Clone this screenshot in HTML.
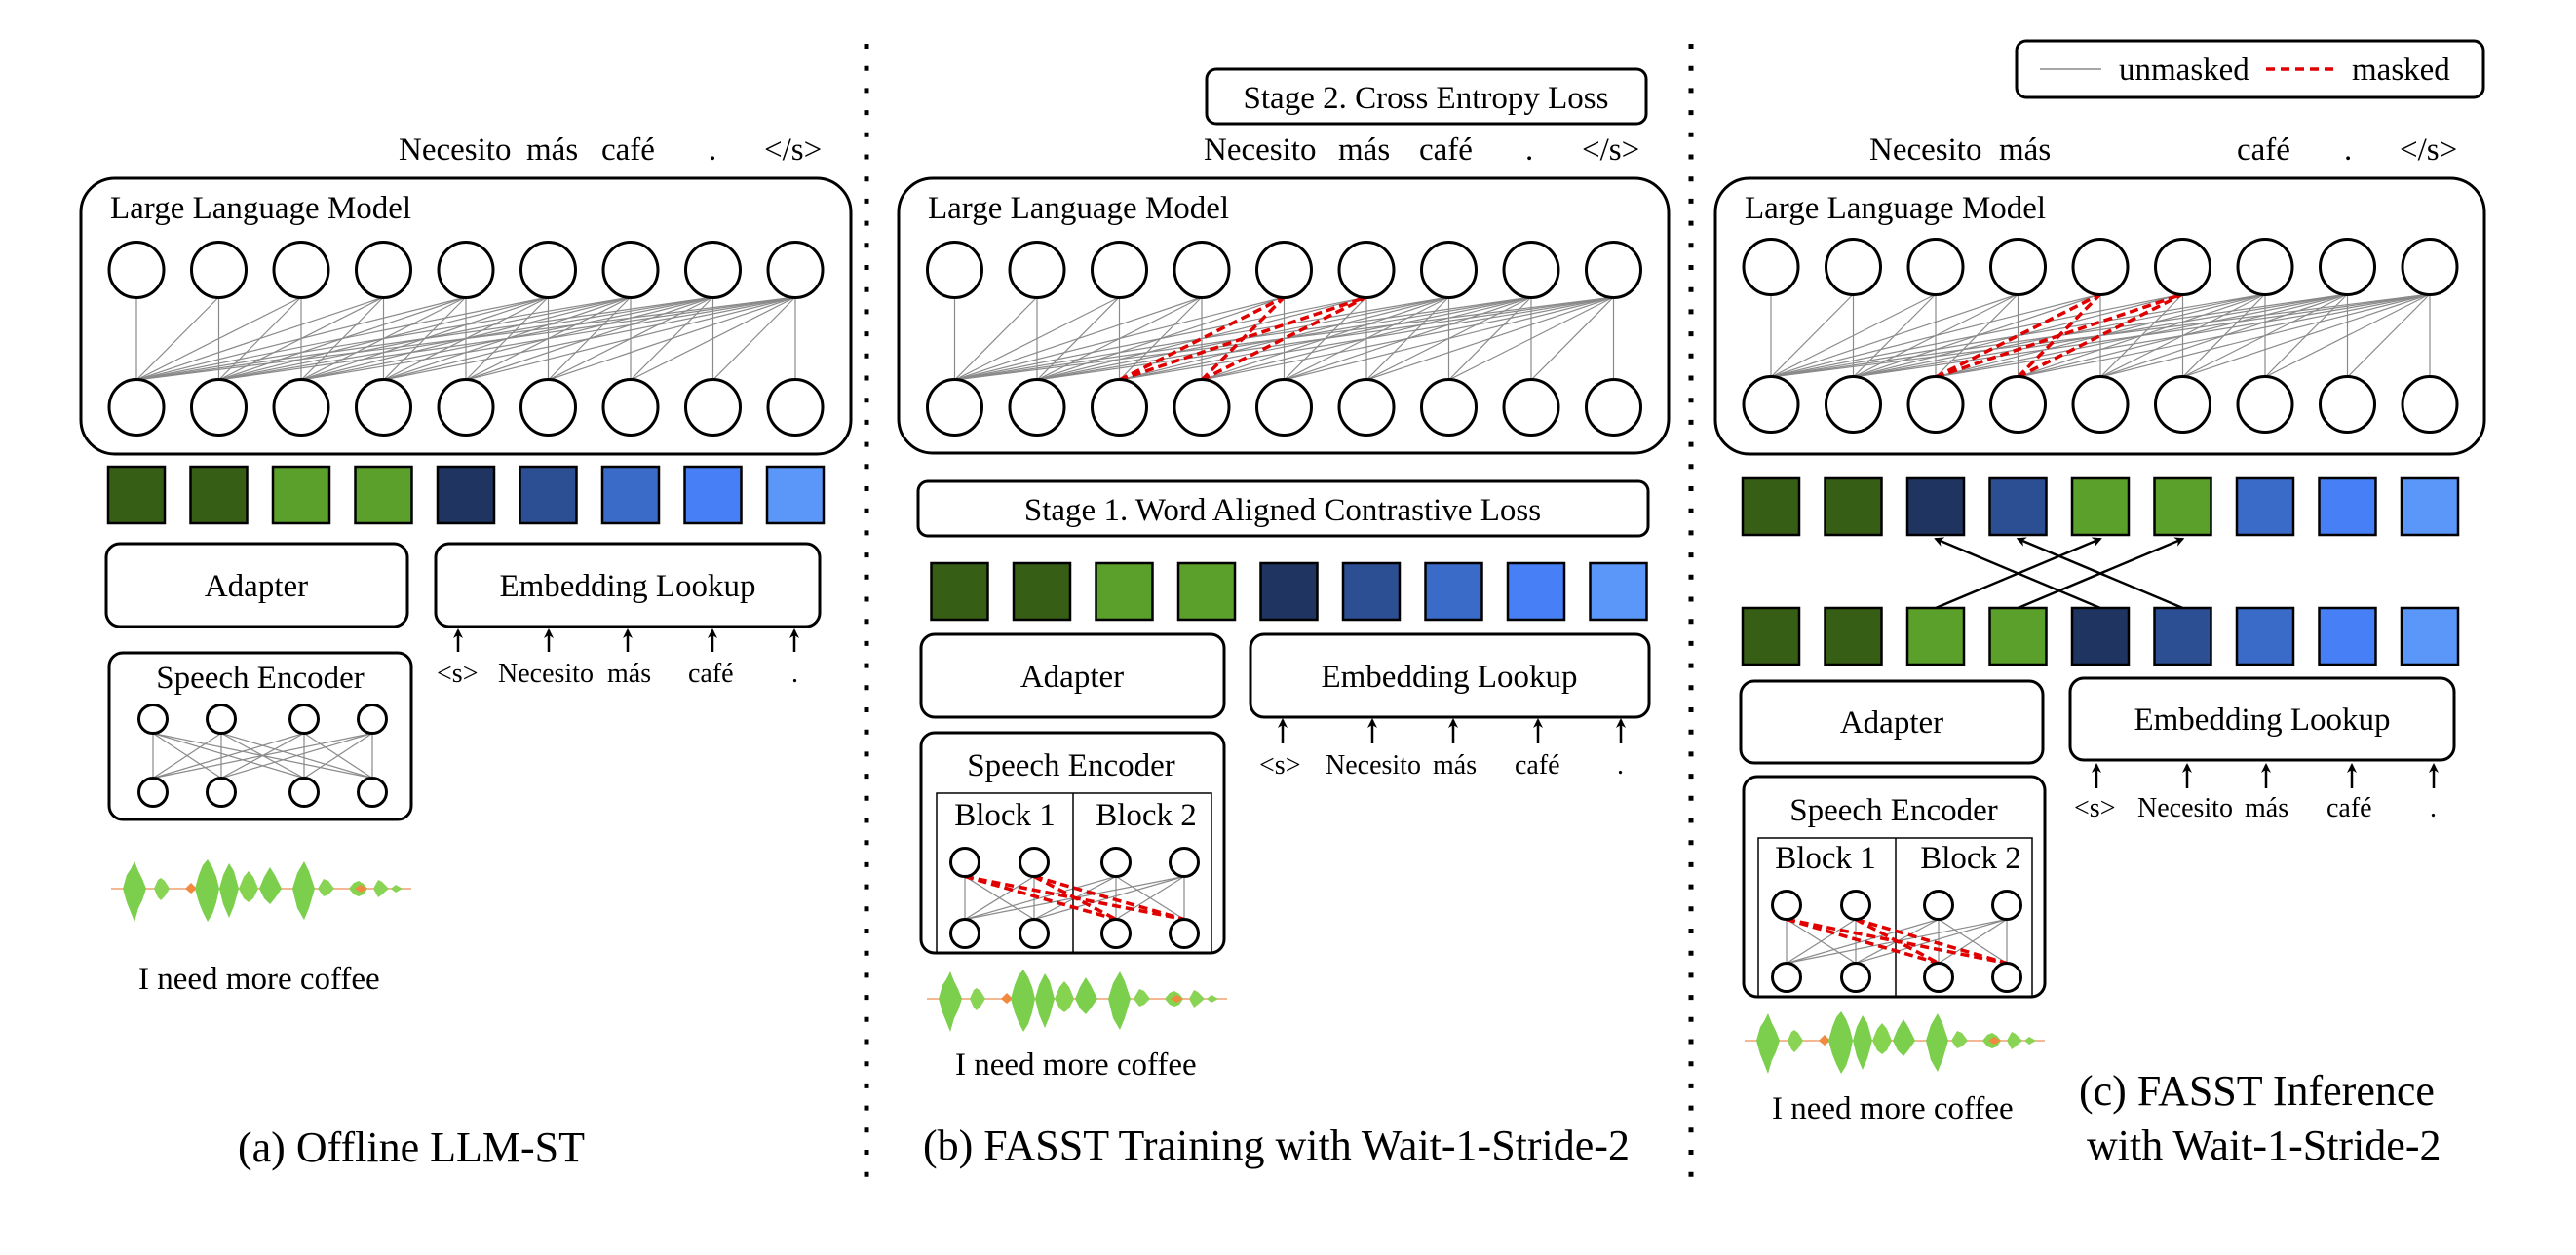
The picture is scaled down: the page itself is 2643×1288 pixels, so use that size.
<!DOCTYPE html>
<html><head><meta charset="utf-8">
<style>
html,body{margin:0;padding:0;background:#fff;}
svg{display:block;font-family:"Liberation Serif","Times New Roman",Times,serif;}
svg text{font-family:"Liberation Serif","Times New Roman",Times,serif;fill:#000;}
.t{font-size:33px;}
.s{font-size:28px;}
.c{font-size:44px;}
.box{fill:none;stroke:#000;stroke-width:3;}
.nd{fill:#fff;stroke:#000;stroke-width:3;}
.g{stroke:#8a8a8a;stroke-width:1.2;fill:none;}
.r{stroke:#e00000;stroke-width:3.5;stroke-dasharray:9 5;fill:none;}
.sq{stroke:#000;stroke-width:2.5;}
.ar{stroke:#000;stroke-width:2.5;fill:none;}
</style></head>
<body>
<svg id="s" width="2643" height="1288" viewBox="0 0 2643 1288" xmlns="http://www.w3.org/2000/svg" font-family="Liberation Serif, serif">
<defs>
<marker id="ah" markerWidth="10" markerHeight="10" refX="8" refY="5" orient="auto" markerUnits="userSpaceOnUse">
<path d="M0,0 L10,5 L0,10 L3,5 z" fill="#000"/></marker>
<g id="wave">
<line x1="0" y1="0" x2="308" y2="0" stroke="#f2a070" stroke-width="1.5"/>
<path d="M12,0 L16,-14 L20,-20 L24,-28 L28,-18 L32,-10 L36,0 L32,12 L28,20 L24,34 L20,24 L16,14 Z" fill="#7ccf4c"/>
<path d="M44,0 L48,-9 L51,-11 L55,-8 L60,0 L55,8 L51,12 L48,9 Z" fill="#8ad455"/>
<path d="M76,0 L82,-6 L88,0 L82,5 Z" fill="#f08a40"/>
<path d="M86,0 L90,-14 L94,-24 L99,-30 L104,-22 L108,-12 L111,0 L108,14 L104,26 L99,34 L94,24 L90,14 Z" fill="#7ccf4c"/>
<path d="M111,0 L115,-14 L121,-26 L126,-18 L131,0 L126,18 L121,30 L115,16 Z" fill="#7ccf4c"/>
<path d="M131,0 L136,-12 L141,-18 L146,-12 L151,0 L146,10 L141,14 L136,10 Z" fill="#86d350"/>
<path d="M152,0 L157,-12 L163,-22 L168,-14 L175,0 L168,10 L163,16 L157,10 Z" fill="#7ccf4c"/>
<path d="M186,0 L191,-16 L198,-28 L203,-18 L209,0 L203,20 L198,32 L191,20 Z" fill="#7ccf4c"/>
<path d="M212,0 L218,-10 L223,-8 L229,0 L223,6 L218,8 Z" fill="#8ad455"/>
<path d="M244,0 L249,-6 L254,-8 L259,-5 L263,0 L259,6 L254,8 L249,6 Z" fill="#86d350"/>
<path d="M250,0 L256,-4 L263,0 L256,4 Z" fill="#f08a40"/>
<path d="M269,0 L274,-9 L278,-7 L285,0 L278,6 L274,9 Z" fill="#8ad455"/>
<path d="M287,0 L292,-4 L299,0 L292,4 Z" fill="#8ad455"/>
</g>
</defs>

<line x1="889" y1="45" x2="889" y2="1225" stroke="#000" stroke-width="5" stroke-dasharray="5 17.7"/>
<line x1="1735" y1="45" x2="1735" y2="1225" stroke="#000" stroke-width="5" stroke-dasharray="5 17.7"/>

<g id="lines"></g>

<!-- ========== PANEL A ========== -->
<g class="t">
<text x="409" y="164">Necesito</text><text x="540" y="164">más</text><text x="617" y="164">café</text><text x="727" y="164">.</text><text x="784" y="164">&lt;/s&gt;</text>
</g>
<rect class="box" x="83" y="183" width="790" height="283" rx="35"/>
<text class="t" x="113" y="224">Large Language Model</text>
<rect class="box" x="109" y="558" width="309" height="85" rx="14"/>
<text class="t" x="263" y="612" text-anchor="middle">Adapter</text>
<rect class="box" x="447" y="558" width="394" height="85" rx="14"/>
<text class="t" x="644" y="612" text-anchor="middle">Embedding Lookup</text>
<g class="s">
<text x="448" y="700">&lt;s&gt;</text><text x="511" y="700">Necesito</text><text x="623" y="700">más</text><text x="706" y="700">café</text><text x="812" y="700">.</text>
</g>
<rect class="box" x="112" y="670" width="310" height="171" rx="14"/>
<text class="t" x="267" y="706" text-anchor="middle">Speech Encoder</text>
<use href="#wave" x="114" y="912"/>
<text class="t" x="142" y="1015">I need more coffee</text>
<text class="c" x="244" y="1192">(a) Offline LLM-ST</text>

<!-- ========== PANEL B ========== -->
<rect class="box" x="1238" y="71" width="451" height="56" rx="10"/>
<text class="t" x="1463" y="111" text-anchor="middle">Stage 2. Cross Entropy Loss</text>
<g class="t">
<text x="1235" y="164">Necesito</text><text x="1373" y="164">más</text><text x="1456" y="164">café</text><text x="1565" y="164">.</text><text x="1623" y="164">&lt;/s&gt;</text>
</g>
<rect class="box" x="922" y="183" width="790" height="282" rx="35"/>
<text class="t" x="952" y="224">Large Language Model</text>
<rect class="box" x="942" y="494" width="749" height="56" rx="10"/>
<text class="t" x="1316" y="534" text-anchor="middle">Stage 1. Word Aligned Contrastive Loss</text>
<rect class="box" x="945" y="651" width="311" height="85" rx="14"/>
<text class="t" x="1100" y="705" text-anchor="middle">Adapter</text>
<rect class="box" x="1283" y="651" width="409" height="85" rx="14"/>
<text class="t" x="1487" y="705" text-anchor="middle">Embedding Lookup</text>
<g class="s">
<text x="1292" y="794">&lt;s&gt;</text><text x="1360" y="794">Necesito</text><text x="1470" y="794">más</text><text x="1554" y="794">café</text><text x="1659" y="794">.</text>
</g>
<rect class="box" x="945" y="752" width="311" height="226" rx="14"/>
<text class="t" x="1099" y="796" text-anchor="middle">Speech Encoder</text>
<rect x="961" y="814" width="282" height="164" fill="none" stroke="#000" stroke-width="1.5"/>
<line x1="1101" y1="814" x2="1101" y2="978" stroke="#000" stroke-width="1.5"/>
<text class="t" x="1031" y="847" text-anchor="middle">Block 1</text>
<text class="t" x="1176" y="847" text-anchor="middle">Block 2</text>
<use href="#wave" x="951" y="1025"/>
<text class="t" x="980" y="1103">I need more coffee</text>
<text class="c" x="947" y="1190">(b) FASST Training with Wait-1-Stride-2</text>

<!-- ========== PANEL C ========== -->
<rect class="box" x="2069" y="42" width="479" height="58" rx="10"/>
<line x1="2093" y1="71" x2="2156" y2="71" stroke="#8a8a8a" stroke-width="1.5"/>
<text class="t" x="2174" y="82">unmasked</text>
<line x1="2325" y1="71" x2="2400" y2="71" stroke="#e00000" stroke-width="3.5" stroke-dasharray="9 6"/>
<text class="t" x="2413" y="82">masked</text>
<g class="t">
<text x="1918" y="164">Necesito</text><text x="2051" y="164">más</text><text x="2295" y="164">café</text><text x="2405" y="164">.</text><text x="2462" y="164">&lt;/s&gt;</text>
</g>
<rect class="box" x="1760" y="183" width="789" height="283" rx="35"/>
<text class="t" x="1790" y="224">Large Language Model</text>
<rect class="box" x="1786" y="699" width="310" height="84" rx="14"/>
<text class="t" x="1941" y="752" text-anchor="middle">Adapter</text>
<rect class="box" x="2124" y="696" width="394" height="84" rx="14"/>
<text class="t" x="2321" y="749" text-anchor="middle">Embedding Lookup</text>
<g class="s">
<text x="2128" y="838">&lt;s&gt;</text><text x="2193" y="838">Necesito</text><text x="2303" y="838">más</text><text x="2387" y="838">café</text><text x="2493" y="838">.</text>
</g>
<rect class="box" x="1789" y="797" width="309" height="226" rx="14"/>
<text class="t" x="1943" y="842" text-anchor="middle">Speech Encoder</text>
<rect x="1804" y="860" width="281" height="163" fill="none" stroke="#000" stroke-width="1.5"/>
<line x1="1945" y1="860" x2="1945" y2="1023" stroke="#000" stroke-width="1.5"/>
<text class="t" x="1873" y="891" text-anchor="middle">Block 1</text>
<text class="t" x="2022" y="891" text-anchor="middle">Block 2</text>
<use href="#wave" x="1790" y="1068"/>
<text class="t" x="1818" y="1148">I need more coffee</text>
<text class="c" x="2133" y="1134">(c) FASST Inference</text>
<text class="c" x="2141" y="1190">with Wait-1-Stride-2</text>

<g id="fg"></g>
</svg>
<script>
(function(){
var NS="http://www.w3.org/2000/svg";
var L=document.getElementById("lines"), F=document.getElementById("fg");
function el(p,tag,a){var e=document.createElementNS(NS,tag);for(var k in a)e.setAttribute(k,a[k]);p.appendChild(e);return e;}
var C={dg:"#375e15",lg:"#5ba02a",n1:"#1f3460",n2:"#2c4e93",b3:"#3a6bc8",b4:"#4780f6",b5:"#5b97f8"};
var ord1=["dg","dg","lg","lg","n1","n2","b3","b4","b5"];
var ord2=["dg","dg","n1","n2","lg","lg","b3","b4","b5"];
function llm(x0,dx,yt,yb,masked){
  var xs=[];for(var i=0;i<9;i++)xs.push(x0+dx*i);
  var reds=[];
  for(var j=0;j<9;j++)for(var i=0;i<=j;i++){
    var m=masked&&(j==4||j==5)&&(i==2||i==3);
    var a={x1:xs[i],y1:yb-28,x2:xs[j],y2:yt+28};
    if(m){a["class"]="r";reds.push(a);}else{a["class"]="g";el(L,"line",a);}
  }
  reds.forEach(function(a){el(F,"line",a);});
  xs.forEach(function(x){el(F,"ellipse",{cx:x,cy:yt,rx:28,ry:28.5,"class":"nd"});el(F,"ellipse",{cx:x,cy:yb,rx:28,ry:28.5,"class":"nd"});});
  return xs;
}
function squares(xs,off,y,ord){xs.forEach(function(x,i){el(F,"rect",{x:x+off-29,y:y,width:58,height:58,fill:C[ord[i]],"class":"sq"});});}
function arrows(xs,y1,y2){xs.forEach(function(x){el(F,"line",{x1:x,y1:y1,x2:x,y2:y2+2,"class":"ar","marker-end":"url(#ah)"});});}
function se(xs,yt,yb,blocked){
  var r=14.5, reds=[];
  for(var t=0;t<4;t++)for(var b=0;b<4;b++){
    var a={x1:xs[t],y1:yt+r,x2:xs[b],y2:yb-r};
    if(!blocked){a["class"]="g";el(L,"line",a);continue;}
    var tb=t<2?0:1, bb=b<2?0:1;
    if(tb>=bb){a["class"]="g";el(L,"line",a);}
    else{a["class"]="r";reds.push(a);}
  }
  reds.forEach(function(a){a["stroke-width"]=3;el(F,"line",a);});
  xs.forEach(function(x){el(F,"ellipse",{cx:x,cy:yt,rx:r,ry:r,"class":"nd"});el(F,"ellipse",{cx:x,cy:yb,rx:r,ry:r,"class":"nd"});});
}
var a=llm(140,84.5,277,418,false);
squares(a,0,479,ord1);
arrows([470,563,644,731,815],669,645);
se([157,227,312,382],738,813,false);
var b=llm(979.5,84.5,277,418,true);
squares(b,5,578,ord1);
arrows([1316,1408,1491,1578,1663],763,737);
se([990,1061,1145,1215],885,958,true);
var c=llm(1817,84.5,274,415,true);
squares(c,0,491,ord2);
squares(c,0,624,ord1);
[[2,4],[3,5],[4,2],[5,3]].forEach(function(p){el(F,"line",{x1:c[p[0]],y1:624,x2:c[p[1]],y2:553,"class":"ar","marker-end":"url(#ah)"});});
arrows([2151,2244,2325,2413,2497],809,783);
se([1833,1904,1989,2059],929,1003,true);
})();
</script>
</body></html>
